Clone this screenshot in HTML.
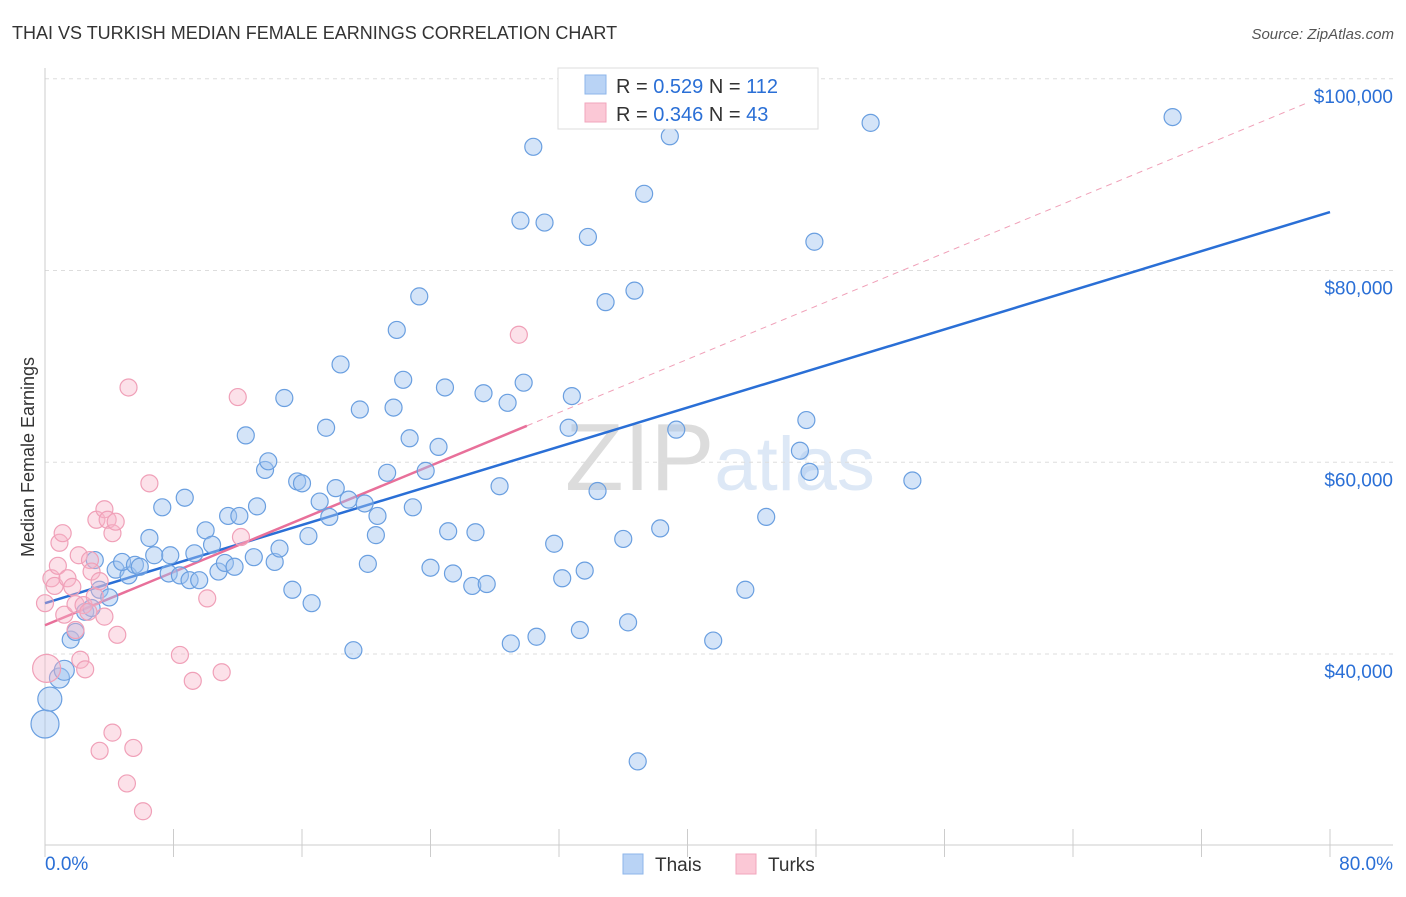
<!DOCTYPE html>
<html><head><meta charset="utf-8"><style>
body{margin:0;background:#fff;font-family:"Liberation Sans",sans-serif;}
svg text{font-family:"Liberation Sans",sans-serif;}
</style></head><body>
<svg id="chart" width="1406" height="892" xmlns="http://www.w3.org/2000/svg">
<text x="12" y="39" font-size="18" fill="#333">THAI VS TURKISH MEDIAN FEMALE EARNINGS CORRELATION CHART</text>
<text x="1394" y="39" font-size="15" fill="#555" font-style="italic" text-anchor="end">Source: ZipAtlas.com</text>
<text x="720" y="490" font-size="96" text-anchor="middle" fill="#e4e4e4" font-family="Liberation Serif"><tspan fill="#dcdcdc">ZIP</tspan><tspan fill="#dde8f6" font-family="Liberation Sans" font-size="76">atlas</tspan></text>
<g id="grid"></g>
<g id="axes"></g>
<g id="lines"></g>
<g id="pts"></g>
<text transform="translate(34,457) rotate(-90)" font-size="18" fill="#333" text-anchor="middle">Median Female Earnings</text>
<g>
<rect x="558" y="68" width="260" height="61" fill="#fff" stroke="#ddd"/>
<rect x="585" y="75" width="21" height="19" fill="#b9d3f5" stroke="#8db6ea"/>
<text x="616" y="93" font-size="20" fill="#333">R = <tspan fill="#2a6fd6">0.529</tspan>   N = <tspan fill="#2a6fd6">112</tspan></text>
<rect x="585" y="103" width="21" height="19" fill="#fbc8d6" stroke="#f2a6bc"/>
<text x="616" y="121" font-size="20" fill="#333">R = <tspan fill="#2a6fd6">0.346</tspan>   N = <tspan fill="#2a6fd6"> 43</tspan></text>
</g>
<g>
<rect x="623" y="854" width="20" height="20" fill="#b9d3f5" stroke="#8db6ea"/>
<text x="655" y="871" font-size="19" fill="#333">Thais</text>
<rect x="736" y="854" width="20" height="20" fill="#fbc8d6" stroke="#f2a6bc"/>
<text x="768" y="871" font-size="19" fill="#333">Turks</text>
</g>
</svg>
<script>
const yTicks=[40000,60000,80000,100000];
const yTickLabels=["$40,000","$60,000","$80,000","$100,000"];
const xTickLabels=["0.0%","80.0%"];
const thaiX=[0,0.3,0.9,1.2,1.6,1.9,2.5,2.9,3.1,3.4,4.0,4.4,5.2,4.8,5.6,5.9,6.5,6.8,7.3,7.8,7.7,8.4,8.7,9.0,9.3,9.6,10.0,10.4,10.8,11.2,11.4,11.8,12.1,12.5,13.0,13.2,13.7,13.9,14.3,14.6,14.9,15.4,15.7,16.0,16.4,16.6,17.1,17.5,17.7,18.1,18.4,18.9,19.2,19.6,19.9,20.1,20.7,20.6,21.3,21.7,21.9,22.3,22.7,22.9,23.3,23.7,24.0,24.5,24.9,25.1,25.4,26.6,26.8,27.3,27.5,28.3,28.8,29.0,29.6,29.8,30.4,30.6,31.1,31.7,32.2,32.6,32.8,33.3,33.6,33.8,34.4,34.9,36.0,36.3,36.7,36.9,37.3,38.3,38.9,39.3,41.6,43.6,44.9,47.0,47.4,47.6,47.9,51.4,54.0,70.2];
const thaiY=[32.7,35.3,37.5,38.3,41.5,42.3,44.4,44.8,49.8,46.7,45.9,48.8,48.2,49.6,49.3,49.1,52.1,50.3,55.3,50.3,48.4,48.2,56.3,47.7,50.5,47.7,52.9,51.4,48.6,49.5,54.4,49.1,54.4,62.8,50.1,55.4,59.2,60.1,49.6,51.0,66.7,46.7,58.0,57.8,52.3,45.3,55.9,63.6,54.3,57.3,70.2,56.1,40.4,65.5,55.7,49.4,54.4,52.4,58.9,65.7,73.8,68.6,62.5,55.3,77.3,59.1,49.0,61.6,67.8,52.8,48.4,47.1,52.7,67.2,47.3,57.5,66.2,41.1,85.2,68.3,92.9,41.8,85.0,51.5,47.9,63.6,66.9,42.5,48.7,83.5,57.0,76.7,52.0,43.3,77.9,28.8,88.0,53.1,94.0,63.4,41.4,46.7,54.3,61.2,64.4,59.0,83.0,95.4,58.1,96.0];
const turkX=[0,0.1,0.4,0.6,0.8,0.9,1.1,1.2,1.4,1.7,1.9,2.1,2.2,2.4,2.5,2.7,2.8,2.9,3.1,3.2,3.4,3.7,3.7,3.9,4.2,4.4,4.5,4.2,3.4,5.2,5.1,5.5,6.1,6.5,8.4,9.2,10.1,11.0,12.0,12.2,29.5,1.9];
const turkY=[45.3,38.5,47.9,47.1,49.2,51.6,52.6,44.1,47.9,47.0,45.2,50.3,39.4,45.1,38.4,44.4,49.8,48.6,46.0,54.0,47.6,43.9,55.1,54.0,52.6,53.8,42.0,31.8,29.9,67.8,26.5,30.2,23.6,57.8,39.9,37.2,45.8,38.1,66.8,52.2,73.3,42.5];
const thaiLine=[45.3,86.1]; // value at x=0 and x=80 (k$)
const turkLine=[43.0,63.8,30]; // at x=0, at x=30 end, end x%
const X=v=>45+v/80*1285;
const Y=k=>654-(k-40)*191.75/20;
const NS="http://www.w3.org/2000/svg";
function mk(p,t,a){const e=document.createElementNS(NS,t);for(const k in a)e.setAttribute(k,a[k]);p.appendChild(e);return e;}
const grid=document.getElementById('grid'),axes=document.getElementById('axes'),lines=document.getElementById('lines'),pts=document.getElementById('pts');
yTicks.forEach((t,i)=>{
 const y=Y(t/1000);
 const g=mk(grid,'line',{x1:45,x2:1393,y1:y,y2:y,stroke:'#ddd','stroke-dasharray':'4,4'});
 
 
 const tx=mk(grid,'text',{x:1393,y:y+24,'font-size':19,fill:'#2a6fd6','text-anchor':'end'});
 tx.textContent=yTickLabels[i];
 
 
});
const ya=mk(axes,'line',{x1:45,x2:45,y1:68,y2:845,stroke:'#ccc'});


const xa=mk(axes,'line',{x1:45,x2:1393,y1:845,y2:845,stroke:'#ccc'});


for(let i=0;i<=10;i++){const x=X(i*8);
 const t=mk(axes,'line',{x1:x,x2:x,y1:829,y2:857,stroke:'#ccc'});
 
 }
[[0,'start'],[80,'end']].forEach((d,i)=>{const t=mk(axes,'text',{x:i?1393:45,y:870,'font-size':19,fill:'#2a6fd6','text-anchor':d[1]});
 t.textContent=xTickLabels[i];
 
 });
// pink dashed extension
const slope=(turkLine[1]-turkLine[0])/turkLine[2];
const pd=mk(lines,'line',{x1:X(turkLine[2]),y1:Y(turkLine[1]),x2:X(78.5),y2:Y(turkLine[0]+slope*78.5),stroke:'#f0a0b8','stroke-dasharray':'6,5','stroke-width':1});


const bl=mk(lines,'line',{x1:X(0),y1:Y(thaiLine[0]),x2:X(80),y2:Y(thaiLine[1]),stroke:'#2a6fd6','stroke-width':2.5});


const pl=mk(lines,'line',{x1:X(0),y1:Y(turkLine[0]),x2:X(turkLine[2]),y2:Y(turkLine[1]),stroke:'#e8709a','stroke-width':2.5});


thaiX.forEach((v,i)=>{const r=i===0?14:i===1?12:i<4?10:8.5;
 const c=mk(pts,'circle',{cx:X(v),cy:Y(thaiY[i]),r:r,fill:'rgba(160,196,240,0.45)',stroke:'#6a9fe0','stroke-width':1.2});
 
 });
turkX.forEach((v,i)=>{const r=i===1?14:8.5;
 const c=mk(pts,'circle',{cx:X(v),cy:Y(turkY[i]),r:r,fill:'rgba(248,180,200,0.4)',stroke:'#f0a0b8','stroke-width':1.2});
 
 });
</script>
</body></html>
